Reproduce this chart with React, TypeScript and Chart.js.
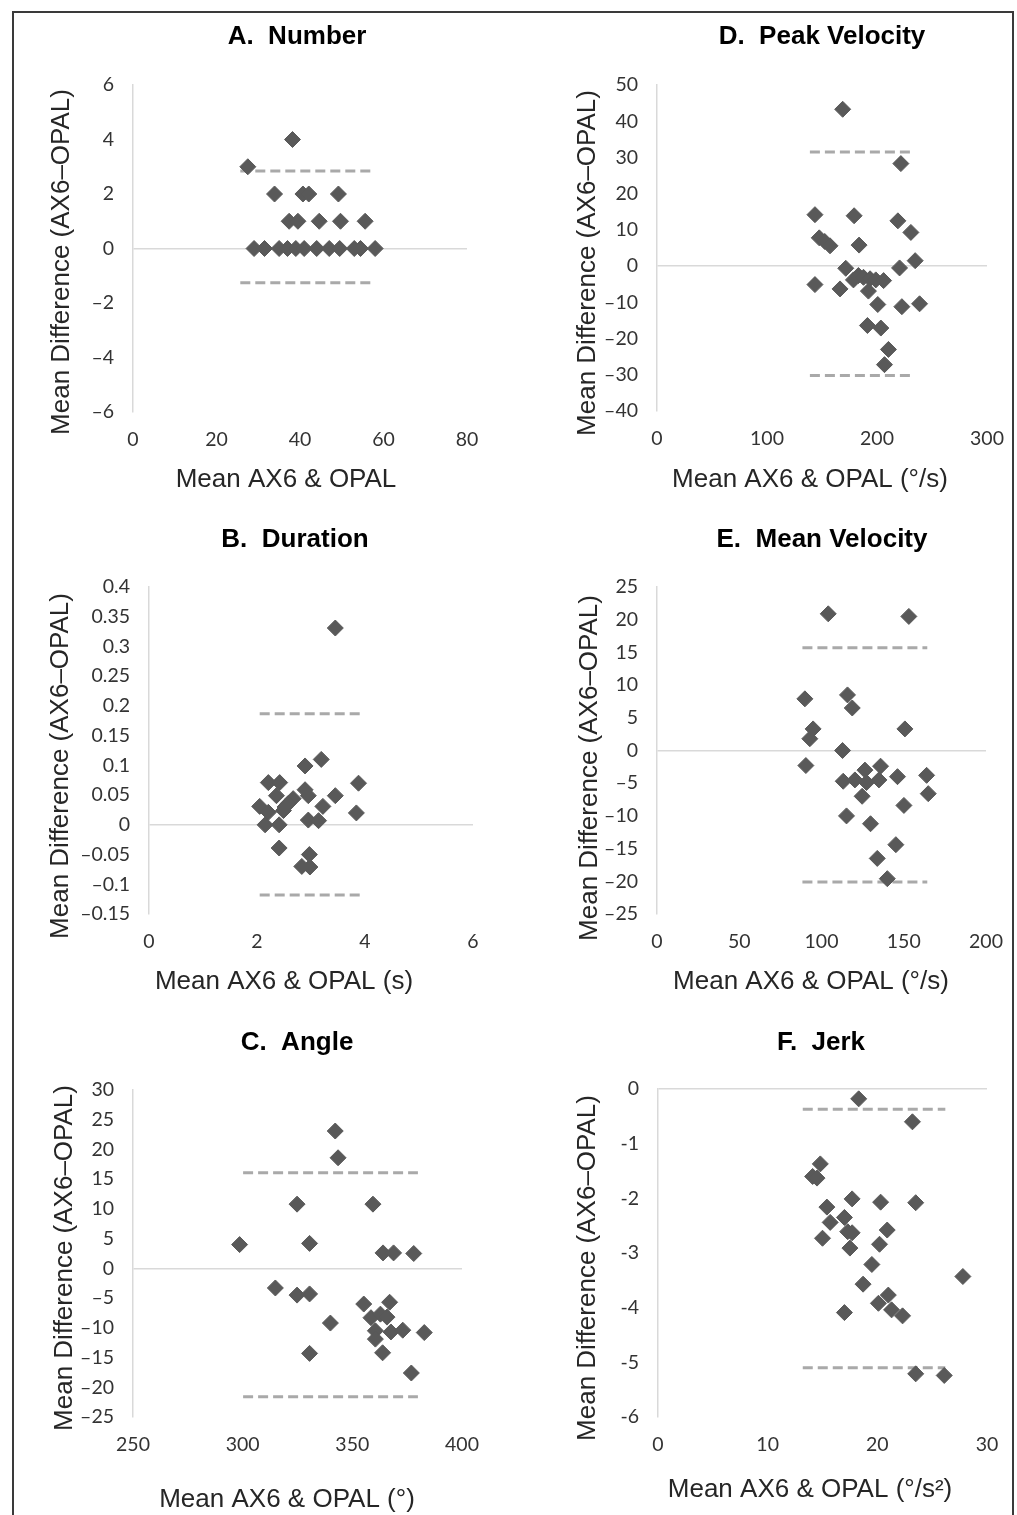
import { useEffect, useRef } from "react";
import { Chart, registerables } from "chart.js";

Chart.register(...registerables);

// ---- A. Number
const numberX = [27.5, 38.2, 33.9, 40.7, 42.1, 49.2, 37.4, 39.5, 44.6, 49.7, 55.6, 29, 31.5, 35, 37, 39, 41, 44, 47, 49.5, 53, 54.5, 58];
const numberY = [3, 4, 2, 2, 2, 2, 1, 1, 1, 1, 1, 0, 0, 0, 0, 0, 0, 0, 0, 0, 0, 0, 0];
const numberLimits = [2.84, -1.26];
const numberSpan = [25.7, 57.2];
const numberXTicks = [0, 20, 40, 60, 80];
const numberYTicks = [-6, -4, -2, 0, 2, 4, 6];

// ---- B. Duration
const durationX = [3.45, 3.19, 2.89, 2.21, 2.42, 3.88, 2.89, 2.95, 2.36, 3.45, 2.67, 2.58, 2.52, 2.05, 2.21, 3.22, 3.84, 2.49, 2.15, 2.41, 2.95, 3.14, 2.41, 2.97, 2.83, 2.98];
const durationY = [0.331, 0.11, 0.099, 0.071, 0.071, 0.07, 0.059, 0.049, 0.049, 0.049, 0.044, 0.036, 0.03, 0.031, 0.021, 0.031, 0.02, 0.024, 0, 0, 0.008, 0.007, -0.039, -0.05, -0.07, -0.071];
const durationLimits = [0.187, -0.118];
const durationSpan = [2.05, 3.93];
const durationXTicks = [0, 2, 4, 6];
const durationYTicks = [-0.15, -0.1, -0.05, 0, 0.05, 0.1, 0.15, 0.2, 0.25, 0.3, 0.35, 0.4];

// ---- C. Angle
const angleX = [342.2, 343.5, 324.8, 359.4, 298.6, 330.5, 364, 368.8, 378, 314.9, 324.8, 330.5, 355.2, 367, 358.5, 362.8, 365.8, 340, 360.5, 367.6, 373, 382.8, 360.5, 330.5, 363.8, 376.9];
const angleY = [23.1, 18.6, 10.8, 10.8, 4.0, 4.2, 2.6, 2.6, 2.5, -3.3, -4.5, -4.3, -6.0, -5.7, -8.3, -7.7, -8.2, -9.2, -10.5, -10.7, -10.4, -10.8, -11.9, -14.3, -14.2, -17.6];
const angleLimits = [16.1, -21.6];
const angleSpan = [300.2, 379.9];
const angleXTicks = [250, 300, 350, 400];
const angleYTicks = [-25, -20, -15, -10, -5, 0, 5, 10, 15, 20, 25, 30];

// ---- D. Peak Velocity
const peakX = [168.8, 221.7, 143.6, 179.2, 219, 230.8, 147.5, 152.5, 157.3, 183.7, 234.7, 171.6, 220.5, 143.6, 166.4, 178.6, 183.1, 187.7, 193.7, 198.9, 206, 192.2, 200.7, 222.6, 238.7, 191.3, 203.5, 210.4, 206.8];
const peakY = [43.3, 28.3, 14.2, 13.9, 12.5, 9.3, 7.8, 6.8, 5.6, 5.8, 1.5, -0.6, -0.5, -5.1, -6.3, -3.8, -2.6, -3.1, -3.5, -3.8, -4.0, -6.9, -10.6, -11.2, -10.4, -16.4, -17.1, -23.0, -27.2];
const peakLimits = [31.5, -30.2];
const peakSpan = [139, 231.7];
const peakXTicks = [0, 100, 200, 300];
const peakYTicks = [-40, -30, -20, -10, 0, 10, 20, 30, 40, 50];

// ---- E. Mean Velocity
const meanVelX = [104.1, 153.1, 89.9, 115.8, 118.7, 94.9, 150.7, 92.9, 112.8, 90.5, 135.9, 126.4, 113.2, 120.3, 127.4, 134.9, 146.2, 163.9, 124.7, 164.9, 150.1, 115.2, 129.8, 145.2, 133.9, 140];
const meanVelY = [20.9, 20.5, 7.9, 8.5, 6.5, 3.3, 3.3, 1.8, 0, -2.3, -2.4, -3.0, -4.7, -4.5, -4.9, -4.5, -4.0, -3.8, -7.0, -6.6, -8.4, -10.0, -11.2, -14.4, -16.5, -19.6];
const meanVelLimits = [15.7, -20.1];
const meanVelSpan = [88.4, 164.3];
const meanVelXTicks = [0, 50, 100, 150, 200];
const meanVelYTicks = [-25, -20, -15, -10, -5, 0, 5, 10, 15, 20, 25];

// ---- F. Jerk
const jerkX = [18.3, 23.2, 14.8, 14.1, 14.5, 17.7, 20.3, 23.5, 15.4, 17.0, 15.7, 20.9, 17.3, 17.7, 15.0, 20.2, 17.5, 19.5, 27.8, 18.7, 21.0, 20.1, 21.3, 17.0, 22.3, 23.5, 26.1];
const jerkY = [-0.18, -0.6, -1.37, -1.6, -1.63, -2.01, -2.07, -2.08, -2.16, -2.35, -2.44, -2.58, -2.61, -2.63, -2.73, -2.84, -2.91, -3.21, -3.43, -3.57, -3.77, -3.92, -4.04, -4.09, -4.15, -5.21, -5.24];
const jerkLimits = [-0.37, -5.1];
const jerkSpan = [13.2, 26.2];
const jerkXTicks = [0, 10, 20, 30];
const jerkYTicks = [-6, -5, -4, -3, -2, -1, 0];

const Y_TITLE = "Mean Difference (AX6\u2013OPAL)";

// space around the plot area inside each canvas
const AXIS_W = 130;
const TOP_PAD = 72;
const RIGHT_PAD = 36;
const AXIS_H = 100;

type Box = { left: number; top: number; right: number; bottom: number };
type PanelProps = {
  title: string;
  xTitle: string;
  xs: number[];
  ys: number[];
  limits: number[];
  span: number[];
  xTicks: number[];
  yTicks: number[];
  minus: string;
  area: Box;
  titleAt: number[];
  xTitleAt: number[];
  yTitleAt: number[];
};

// draws panel title + axis titles at fixed spots (page coords minus canvas offset)
const panelText = {
  id: "panelText",
  afterDraw(chart: any, _args: any, o: any) {
    const ctx = chart.ctx;
    ctx.save();
    ctx.textAlign = "center";
    ctx.textBaseline = "middle";
    ctx.fillStyle = "#000";
    ctx.font = "bold 26px 'Liberation Sans', Arial, sans-serif";
    ctx.fillText(o.title, o.titleAt[0] - o.ox, o.titleAt[1] - o.oy);
    ctx.fillStyle = "#262626";
    ctx.font = "26px 'Liberation Sans', Arial, sans-serif";
    ctx.fillText(o.xTitle, o.xTitleAt[0] - o.ox, o.xTitleAt[1] - o.oy);
    ctx.translate(o.yTitleAt[0] - o.ox, o.yTitleAt[1] - o.oy);
    ctx.rotate(-Math.PI / 2);
    ctx.fillText(o.yTitle, 0, 0);
    ctx.restore();
  },
};

function Panel(p: PanelProps) {
  const chartRef = useRef<HTMLCanvasElement>(null);
  const box = {
    left: p.area.left - AXIS_W,
    top: p.area.top - TOP_PAD,
    width: p.area.right - p.area.left + AXIS_W + RIGHT_PAD,
    height: p.area.bottom - p.area.top + TOP_PAD + AXIS_H,
  };

  useEffect(() => {
    if (!chartRef.current) return;

    const points = p.xs.map((x, i) => ({ x, y: p.ys[i] }));
    const limitSets = p.limits.map((y) => ({
      data: p.span.map((x) => ({ x, y })),
      showLine: true,
      borderColor: "#a9a9a9",
      borderWidth: 3,
      borderDash: [10, 5],
      pointRadius: 0,
      order: 2,
    }));
    const fmt = (v: any) => String(v).replace("-", p.minus);
    const tickFont = { family: "Lato, 'Noto Sans', sans-serif", size: 19.5 };

    const chart = new Chart(chartRef.current, {
      type: "scatter",
      data: {
        datasets: [
          {
            data: points,
            pointStyle: "rectRot",
            pointRadius: 8,
            backgroundColor: "#595959",
            borderColor: "#595959",
            borderWidth: 1,
            order: 1,
          },
          ...limitSets,
        ] as any,
      },
      options: {
        animation: false,
        responsive: true,
        maintainAspectRatio: false,
        layout: { padding: { top: TOP_PAD, right: RIGHT_PAD, left: 0, bottom: 0 } },
        plugins: {
          legend: { display: false },
          tooltip: { enabled: false },
          panelText: {
            title: p.title,
            xTitle: p.xTitle,
            yTitle: Y_TITLE,
            titleAt: p.titleAt,
            xTitleAt: p.xTitleAt,
            yTitleAt: p.yTitleAt,
            ox: box.left,
            oy: box.top,
          },
        } as any,
        scales: {
          x: {
            type: "linear",
            min: p.xTicks[0],
            max: p.xTicks[p.xTicks.length - 1],
            afterBuildTicks: (a: any) => {
              a.ticks = p.xTicks.map((v) => ({ value: v }));
            },
            afterFit: (s: any) => {
              s.height = AXIS_H;
            },
            grid: { display: false, drawTicks: false },
            border: { display: false },
            ticks: { padding: 16, color: "#333333", font: tickFont, autoSkip: false, maxRotation: 0, callback: fmt },
          },
          y: {
            type: "linear",
            min: p.yTicks[0],
            max: p.yTicks[p.yTicks.length - 1],
            afterBuildTicks: (a: any) => {
              a.ticks = p.yTicks.map((v) => ({ value: v }));
            },
            afterFit: (s: any) => {
              s.width = AXIS_W;
            },
            grid: {
              drawTicks: false,
              lineWidth: 1.5,
              color: (c: any) => (c.tick && c.tick.value === 0 ? "#d9d9d9" : "rgba(0,0,0,0)"),
            },
            border: { display: true, color: "#d9d9d9", width: 1.5 },
            ticks: { padding: 19, color: "#333333", font: tickFont, autoSkip: false, callback: fmt },
          },
        },
      } as any,
      plugins: [panelText],
    });

    return () => {
      chart.destroy();
    };
  }, []);

  return (
    <div style={{ position: "absolute", left: box.left, top: box.top, width: box.width, height: box.height }}>
      <canvas ref={chartRef}></canvas>
    </div>
  );
}

const panels: PanelProps[] = [
  {
    title: "A.  Number", xTitle: "Mean AX6 & OPAL",
    xs: numberX, ys: numberY, limits: numberLimits, span: numberSpan,
    xTicks: numberXTicks, yTicks: numberYTicks, minus: "\u2013",
    area: { left: 133, top: 85, right: 467, bottom: 412 },
    titleAt: [297, 37], xTitleAt: [286, 480], yTitleAt: [62, 262],
  },
  {
    title: "D.  Peak Velocity", xTitle: "Mean AX6 & OPAL (\u00b0/s)",
    xs: peakX, ys: peakY, limits: peakLimits, span: peakSpan,
    xTicks: peakXTicks, yTicks: peakYTicks, minus: "\u2013",
    area: { left: 657, top: 85, right: 987, bottom: 411 },
    titleAt: [822, 37], xTitleAt: [810, 480], yTitleAt: [588, 263],
  },
  {
    title: "B.  Duration", xTitle: "Mean AX6 & OPAL (s)",
    xs: durationX, ys: durationY, limits: durationLimits, span: durationSpan,
    xTicks: durationXTicks, yTicks: durationYTicks, minus: "\u2013",
    area: { left: 149, top: 587, right: 473, bottom: 914 },
    titleAt: [295, 540], xTitleAt: [284, 982], yTitleAt: [61, 766],
  },
  {
    title: "E.  Mean Velocity", xTitle: "Mean AX6 & OPAL (\u00b0/s)",
    xs: meanVelX, ys: meanVelY, limits: meanVelLimits, span: meanVelSpan,
    xTicks: meanVelXTicks, yTicks: meanVelYTicks, minus: "\u2013",
    area: { left: 657, top: 587, right: 986, bottom: 914 },
    titleAt: [822, 540], xTitleAt: [811, 982], yTitleAt: [590, 768],
  },
  {
    title: "C.  Angle", xTitle: "Mean AX6 & OPAL (\u00b0)",
    xs: angleX, ys: angleY, limits: angleLimits, span: angleSpan,
    xTicks: angleXTicks, yTicks: angleYTicks, minus: "\u2013",
    area: { left: 133, top: 1090, right: 462, bottom: 1417 },
    titleAt: [297, 1043], xTitleAt: [287, 1500], yTitleAt: [65, 1258],
  },
  {
    title: "F.  Jerk", xTitle: "Mean AX6 & OPAL (\u00b0/s\u00b2)",
    xs: jerkX, ys: jerkY, limits: jerkLimits, span: jerkSpan,
    xTicks: jerkXTicks, yTicks: jerkYTicks, minus: "-",
    area: { left: 658, top: 1089, right: 987, bottom: 1417 },
    titleAt: [821, 1043], xTitleAt: [810, 1490], yTitleAt: [588, 1268],
  },
];

export default function App() {
  return (
    <div
      style={{
        position: "absolute",
        left: 0,
        top: 0,
        width: 1017,
        height: 1515,
        overflow: "hidden",
        background: "#fff",
      }}
    >
      <div
        style={{
          position: "absolute",
          left: 12,
          top: 11,
          width: 1002,
          height: 1540,
          border: "2px solid #3a3a3a",
          boxSizing: "border-box",
        }}
      />
      {panels.map((p) => (
        <Panel key={p.title} {...p} />
      ))}
    </div>
  );
}
